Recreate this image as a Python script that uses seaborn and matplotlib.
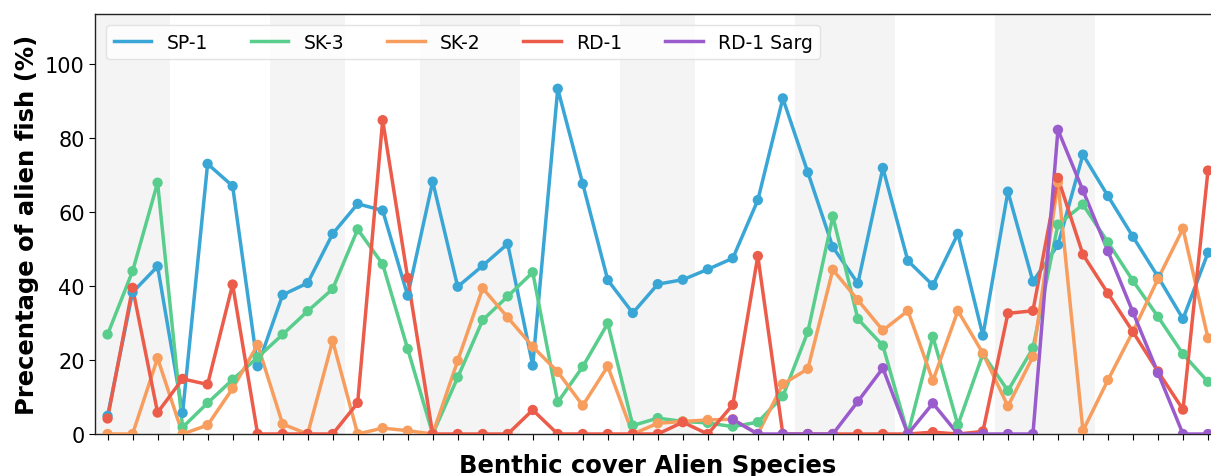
import numpy as np
import pandas as pd
import matplotlib
matplotlib.use("Agg")
import matplotlib.pyplot as plt
import seaborn as sns

# ---- data ----
series_names = ["SP-1", "SK-3", "SK-2", "RD-1", "RD-1 Sarg"]

sp1 = [4.9, 38.3, 45.3, 5.7, 73.0, 67.0, 18.3, 37.6, 40.8, 54.1,
       62.2, 60.4, 37.4, 68.2, 39.8, 45.5, 51.4, 18.5, 93.3, 67.6,
       41.6, 32.7, 40.5, 41.7, 44.5, 47.5, 63.2, 90.7, 70.7, 50.5,
       40.7, 71.9, 46.8, 40.2, 54.1, 26.6, 65.5, 41.2, 51.1, 75.5,
       64.3, 53.3, 42.5, 31.1, 49.0]
sk3 = [26.9, 44.0, 67.9, 1.8, 8.4, 14.7, 20.7, 26.9, 33.2, 39.2,
       55.3, 45.9, 23.0, 0.0, 15.3, 30.8, 37.2, 43.7, 8.6, 18.2,
       29.9, 2.3, 4.3, 3.4, 3.0, 2.0, 3.2, 10.2, 27.6, 58.8,
       31.1, 23.9, 0.0, 26.3, 2.4, 21.6, 11.7, 23.2, 56.6, 62.0,
       51.8, 41.4, 31.7, 21.6, 14.1]
sk2 = [0.0, 0.0, 20.5, 0.0, 2.4, 12.3, 24.1, 2.7, 0.0, 25.2,
       0.0, 1.6, 0.9, 0.0, 19.8, 39.4, 31.5, 23.6, 16.8, 7.7,
       18.3, 0.0, 2.9, 3.4, 3.8, 4.0, 0.0, 13.5, 17.6, 44.4,
       36.2, 28.0, 33.3, 14.4, 33.3, 21.8, 7.5, 20.9, 68.0, 0.9,
       14.6, 27.7, 41.9, 55.5, 25.9]
rd1 = [4.2, 39.5, 5.8, 14.9, 13.4, 40.4, 0.0, 0.0, 0.0, 0.0,
       8.4, 84.8, 42.2, 0.0, 0.0, 0.0, 0.0, 6.5, 0.0, 0.0,
       0.0, 0.0, 0.0, 3.2, 0.0, 7.9, 48.1, 0.0, 0.0, 0.0,
       0.0, 0.0, 0.0, 0.5, 0.0, 0.7, 32.6, 33.3, 69.2, 48.5,
       38.0, 27.6, 16.9, 6.6, 71.2]
rd1_sarg = [np.nan] * 25 + [3.9, 0.0, 0.0, 0.0, 0.0,
       8.8, 17.8, 0.0, 8.3, 0.0, 0.0, 0.0, 0.0, 82.2, 65.8,
       49.4, 32.9, 16.5, 0.0, 0.0]

# widths (in sites) of alternating background groups
group_sizes = [3, 4, 3, 3, 4, 4, 3, 4, 4, 4, 4, 4]

colors = ["#3aa6d6", "#58cd8c", "#f79e5e", "#ec5c4a", "#9a5ccc"]

sites = np.arange(len(sp1))
df = pd.DataFrame({"site": sites, "SP-1": sp1, "SK-3": sk3, "SK-2": sk2,
                   "RD-1": rd1, "RD-1 Sarg": rd1_sarg})
long = df.melt(id_vars="site", var_name="series", value_name="pct").dropna()

fig = plt.figure(figsize=(12.11, 4.77), dpi=100)
ax = fig.add_axes([0.0785, 0.088, 0.9215, 0.8806])

# background bands
start = -0.5
for k, g in enumerate(group_sizes):
    if k % 2 == 0:
        ax.axvspan(start, start + g, color="#f4f4f4", lw=0, zorder=0)
    start += g

palette = dict(zip(series_names, colors))
sns.lineplot(data=long, x="site", y="pct", hue="series", hue_order=series_names,
             palette=palette, lw=2.5, ax=ax, zorder=3, estimator=None)
sns.scatterplot(data=long, x="site", y="pct", hue="series", hue_order=series_names,
                palette=palette, s=55, edgecolor="none", legend=False, ax=ax, zorder=4)

ax.set_xlim(-0.5, 44.12)
ax.set_ylim(0, 113.5)
ax.set_xticks(sites)
ax.set_xticklabels([])
ax.set_yticks([0, 20, 40, 60, 80, 100])
ax.tick_params(axis="y", labelsize=15, length=4)
ax.tick_params(axis="x", length=4)
for s in ["left", "bottom", "top"]:
    ax.spines[s].set_color("#222222")
    ax.spines[s].set_linewidth(1.0)
ax.spines["right"].set_visible(False)

ax.set_xlabel("Benthic cover Alien Species", fontsize=17.5, fontweight="bold")
ax.xaxis.set_label_coords(0.495, -0.045, transform=ax.transAxes)
ax.xaxis.label.set_va("top")
ax.set_ylabel("Precentage of alien fish (%)", fontsize=17.5, fontweight="bold", labelpad=4)

leg = ax.legend(loc="upper left", ncol=5, fontsize=13.5, frameon=True,
                handlelength=2.0, columnspacing=2.3, borderaxespad=0.6)
leg.get_frame().set_edgecolor("#dddddd")
for line in leg.get_lines():
    line.set_linewidth(2.5)

fig.savefig("out.png", dpi=100)
